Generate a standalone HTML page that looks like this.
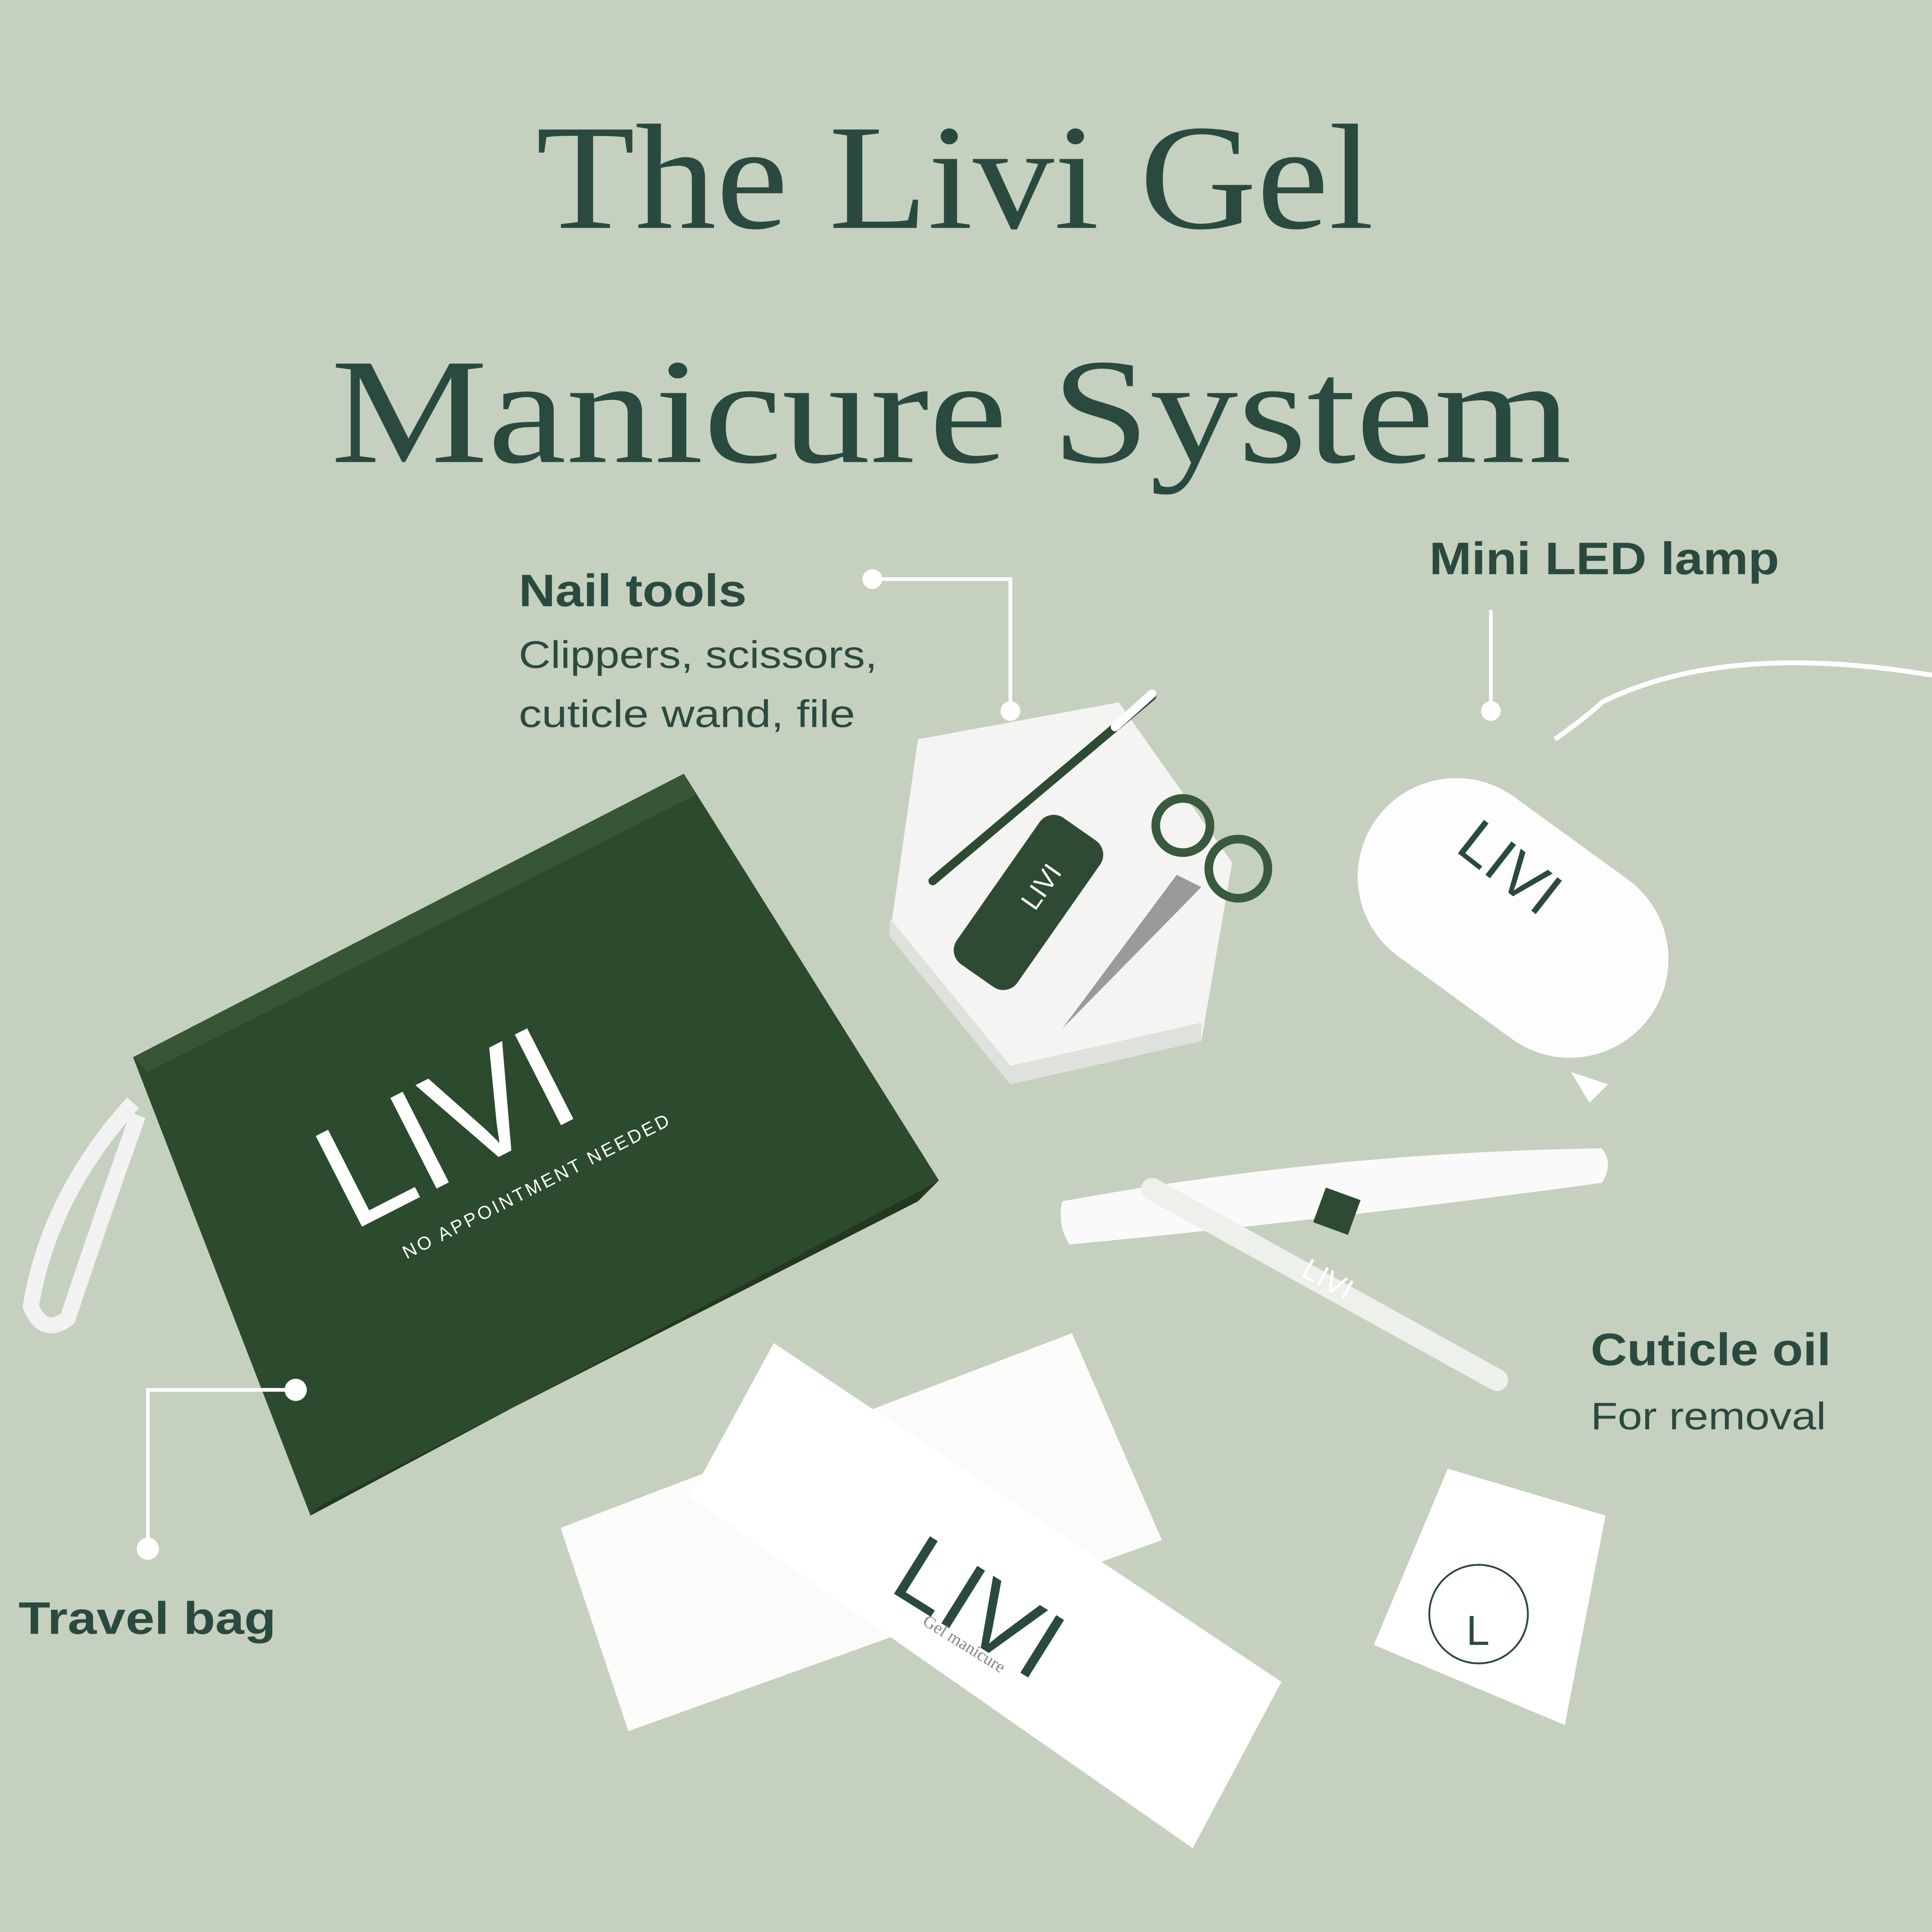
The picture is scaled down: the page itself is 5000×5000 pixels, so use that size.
<!DOCTYPE html>
<html><head><meta charset="utf-8"><style>
html,body{margin:0;padding:0;background:#c5d0be;}
svg{display:block}
</style></head><body>
<svg width="5000" height="5000" viewBox="0 0 1568 1568" xmlns="http://www.w3.org/2000/svg">
<rect width="1568" height="1568" fill="#c5d0be"/>
<g font-family="Liberation Serif, serif" fill="#2b4a3f">
<text x="775" y="185" font-size="122" text-anchor="middle" textLength="680" lengthAdjust="spacingAndGlyphs">The Livi Gel</text>
<text x="772" y="375" font-size="122" text-anchor="middle" textLength="1007" lengthAdjust="spacingAndGlyphs">Manicure System</text>
</g>
<g font-family="Liberation Sans, sans-serif" fill="#2b4a3f">
<text x="421" y="492" font-size="37" font-weight="bold" textLength="185" lengthAdjust="spacingAndGlyphs">Nail tools</text>
<text x="421" y="542" font-size="31" textLength="291" lengthAdjust="spacingAndGlyphs">Clippers, scissors,</text>
<text x="421" y="590" font-size="31" textLength="273" lengthAdjust="spacingAndGlyphs">cuticle wand, file</text>
<text x="1160" y="466" font-size="37" font-weight="bold" textLength="284" lengthAdjust="spacingAndGlyphs">Mini LED lamp</text>
<text x="1291" y="1108" font-size="37" font-weight="bold" textLength="195" lengthAdjust="spacingAndGlyphs">Cuticle oil</text>
<text x="1291" y="1160" font-size="31" textLength="191" lengthAdjust="spacingAndGlyphs">For removal</text>
<text x="15" y="1326" font-size="37" font-weight="bold" textLength="209" lengthAdjust="spacingAndGlyphs">Travel bag</text>
</g>
<!-- hexagon tile -->
<polygon points="745,600 908,570 1000,700 975,845 820,880 722,760" fill="#f4f4f2"/>
<polygon points="722,760 820,880 975,845 975,830 820,865 722,745" fill="#dfe2dc"/>
<!-- tools -->
<line x1="757" y1="715" x2="935" y2="565" stroke="#2e4a33" stroke-width="7" stroke-linecap="round"/>
<line x1="905" y1="590" x2="935" y2="563" stroke="#fff" stroke-width="7" stroke-linecap="round"/>
<rect x="805" y="660" width="60" height="145" rx="14" transform="rotate(35 835 732)" fill="#2e4a33"/>
<text x="840" y="740" font-family="Liberation Sans, sans-serif" font-size="22" fill="#fff" transform="rotate(-55 840 740)">LIVI</text>
<circle cx="960" cy="670" r="22" fill="none" stroke="#3a5a3e" stroke-width="7"/>
<circle cx="1005" cy="705" r="24" fill="none" stroke="#3a5a3e" stroke-width="7"/>
<polygon points="955,710 975,720 862,835" fill="#9a9a9a"/>
<!-- lamp -->
<path d="M1262,600 Q1290,580 1300,570 Q1400,520 1568,548" stroke="#fff" stroke-width="4" fill="none"/>
<g transform="rotate(36 1228 745)">
<rect x="1091" y="665" width="274" height="160" rx="80" fill="#fdfdfd"/>
</g>
<text x="1180" y="690" font-family="Liberation Sans, sans-serif" font-size="50" fill="#2b4a3f" transform="rotate(38 1180 690)">LIVI</text>
<polygon points="1275,870 1305,880 1290,895" fill="#fff"/>
<!-- bag -->
<polygon points="108,858 555,628 762,958 252,1230" fill="#2c4a2d"/>
<polygon points="108,858 555,628 565,645 120,870" fill="#365636"/>
<polygon points="252,1230 762,958 745,975 260,1222" fill="#23391f"/>
<text x="285" y="1000" font-family="Liberation Sans, sans-serif" font-size="120" fill="#fff" transform="rotate(-27 285 1000)">LIVI</text>
<text x="330" y="1022" font-family="Liberation Sans, sans-serif" font-size="15" fill="#fff" letter-spacing="2" transform="rotate(-27 330 1022)">NO APPOINTMENT NEEDED</text>
<path d="M108,895 Q40,970 25,1060 Q35,1085 55,1070 Q85,980 112,905" stroke="#f2f2f2" stroke-width="13" fill="none"/>
<g stroke="#ffffff" stroke-width="3" fill="none">
<polyline points="708,470 820,470 820,577"/>
<line x1="1210" y1="495" x2="1210" y2="577"/>
<polyline points="240,1128 120,1128 120,1257"/>
</g>
<g fill="#ffffff">
<circle cx="708" cy="470" r="8"/><circle cx="820" cy="577" r="8"/>
<circle cx="1210" cy="577" r="8"/><circle cx="240" cy="1128" r="9"/><circle cx="120" cy="1257" r="9"/>
</g>
<!-- file -->
<path d="M862,975 Q1080,935 1300,932 Q1310,945 1300,960 Q1080,990 868,1010 Q858,995 862,975 Z" fill="#fafafa"/>
<rect x="1070" y="968" width="30" height="30" fill="#2e4a33" transform="rotate(20 1085 983)"/>
<!-- pen -->
<line x1="935" y1="965" x2="1215" y2="1120" stroke="#eef0ec" stroke-width="18" stroke-linecap="round"/>
<text x="1055" y="1035" font-family="Liberation Sans, sans-serif" font-size="24" fill="#fff" transform="rotate(29 1055 1035)">LIVI</text>
<!-- papers -->
<polygon points="455,1240 870,1082 943,1250 510,1405" fill="#fbfbf9"/>
<polygon points="560,1215 628,1090 1040,1365 968,1500" fill="#ffffff"/>
<text x="720" y="1290" font-family="Liberation Sans, sans-serif" font-size="80" fill="#2b4a3f" transform="rotate(32 720 1290)">LIVI</text>
<text x="748" y="1318" font-family="Liberation Serif, serif" font-size="14" fill="#888" transform="rotate(32 748 1318)">Gel manicure</text>
<!-- small card -->
<polygon points="1175,1192 1303,1230 1270,1400 1115,1335" fill="#fff"/>
<circle cx="1200" cy="1310" r="40" fill="none" stroke="#2b4a3f" stroke-width="1.5"/>
<text x="1190" y="1335" font-family="Liberation Sans, sans-serif" font-size="34" fill="#2b4a3f">L</text>
</svg>
</body></html>
